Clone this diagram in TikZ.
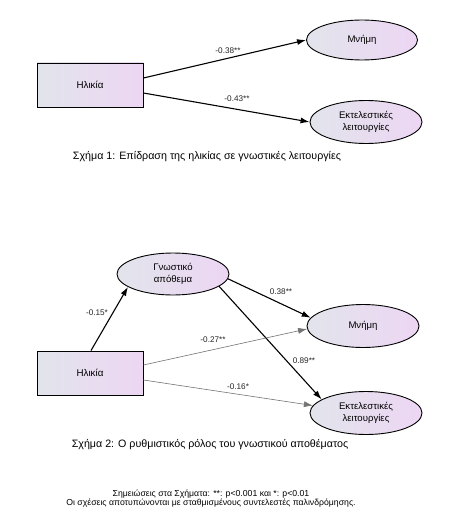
\documentclass[tikz,border=0pt]{standalone}
\usepackage{fontspec}
\setmainfont{Liberation Sans}
\usetikzlibrary{shapes.geometric,arrows.meta,calc}
\definecolor{shL}{HTML}{E2E4EC}
\definecolor{shR}{HTML}{EDD6F3}
\tikzset{
  varbox/.style={draw=black, line width=0.9pt, left color=shL, right color=shR,
    minimum width=106pt, minimum height=44pt, inner sep=0pt, font=\fontsize{9.8}{11}\selectfont},
  varell/.style={ellipse, draw=black, line width=0.9pt, left color=shL, right color=shR,
    minimum width=112pt, minimum height=42pt, inner sep=0pt, align=center,
    font=\fontsize{9.6}{11.5}\selectfont},
  patharrow/.style={line width=1.1pt, -{Latex[length=9pt,width=6pt]}},
  weakarrow/.style={line width=0.6pt, draw=black!55, -{Latex[length=9pt,width=6pt]}},
  coef/.style={inner sep=0pt, font=\fontsize{8.2}{9}\selectfont, text=black!85},
  caption/.style={inner sep=0pt, font=\fontsize{10.7}{12}\selectfont},
  notes/.style={inner sep=0pt, align=center, font=\fontsize{8.7}{9.4}\selectfont},
}
\begin{document}
\begin{tikzpicture}[x=1pt,y=-1pt]
\useasboundingbox (0,0) rectangle (457,511);
% Figure 1
\node[varbox] (h1) at (90,85) {Ηλικία};
\node[varell, minimum width=111pt, minimum height=40pt] (m1) at (362,40) {Μνήμη};
\node[varell, minimum height=43pt] (e1) at (366,122) {Εκτελεστικές\\λειτουργίες};
\draw[patharrow] ($(h1.east)+(0,-7)$) -- (m1.west);
\draw[patharrow] ($(h1.east)+(0,8)$) -- (e1.west);
\node[coef] (l1) at (228,51) {-0.38**};
\node[coef] (l2) at (237,99) {-0.43**};
\node[caption] (c1) at (207,157) {Σχήμα 1: Επίδραση της ηλικίας σε γνωστικές λειτουργίες};
% Figure 2
\node[varbox] (h2) at (90,373) {Ηλικία};
\node[varell] (g2) at (173,274) {Γνωστικό\\απόθεμα};
\node[varell, minimum height=43pt] (m2) at (363,326) {Μνήμη};
\node[varell, minimum height=43pt] (e2) at (366,413) {Εκτελεστικές\\λειτουργίες};
\draw[patharrow] ($(h2.north)+(1,0)$) -- (g2.196);
\draw[patharrow] (g2.-5) -- (m2.171);
\draw[patharrow] (g2.-15) -- (e2.163);
\draw[weakarrow] ($(h2.east)+(0,-8)$) -- (m2.183);
\draw[weakarrow] ($(h2.east)+(0,7)$) -- (e2.172);
\node[coef] (l3) at (97,313) {-0.15*};
\node[coef] (l4) at (281,292) {0.38**};
\node[coef] (l5) at (213,340) {-0.27**};
\node[coef] (l6) at (304,361) {0.89**};
\node[coef] (l7) at (238,387) {-0.16*};
\node[caption] (c2) at (210,445) {Σχήμα 2: Ο ρυθμιστικός ρόλος του γνωστικού αποθέματος};
\node[notes] (n) at (211,498.5) {Σημειώσεις στα Σχήματα: **: p<0.001 και *: p<0.01\\Οι σχέσεις αποτυπώνονται με σταθμισμένους συντελεστές παλινδρόμησης.};
\end{tikzpicture}
\end{document}
